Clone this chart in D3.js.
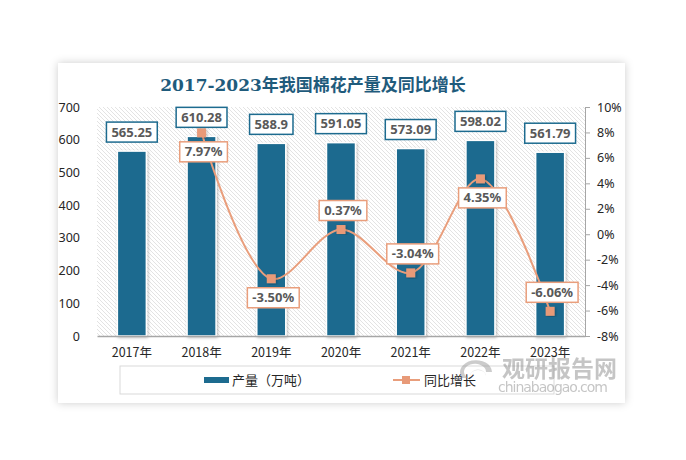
<!DOCTYPE html>
<html>
<head>
<meta charset="utf-8">
<script src="https://cdn.jsdelivr.net/npm/d3@7"></script>
<style>
body{margin:0;background:#fff;}
svg text{font-family:"Noto Sans CJK SC","Noto Sans",sans-serif;}
</style>
</head>
<body>
<div id="chart"></div>
<script>
// data
var years = ["2017年","2018年","2019年","2020年","2021年","2022年","2023年"]
var output = [565.25,610.28,588.9,591.05,573.09,598.02,561.79]
var growth = [null,7.97,-3.50,0.37,-3.04,4.35,-6.06]
var growthLabels = ["","7.97%","-3.50%","0.37%","-3.04%","4.35%","-6.06%"]
var growthSide = [0,1,1,-1,-1,1,-1]   // 1 = label under the point, -1 = over it
var leftTicks = [0,100,200,300,400,500,600,700]
var rightTicks = [-8,-6,-4,-2,0,2,4,6,8,10]

var barColor = "#1d6b8f"
var lineColor = "#e99e7c"
var W = 686, H = 460

drawChart()

function drawChart(){
    var svg = d3.select("#chart").append("svg").attr("width",W).attr("height",H)
    var defs = svg.append("defs")

    var sh = defs.append("filter").attr("id","panelShadow").attr("x","-10%").attr("y","-10%").attr("width","120%").attr("height","120%")
    sh.append("feDropShadow").attr("dx",0).attr("dy",0).attr("stdDeviation",4).attr("flood-color","#000").attr("flood-opacity",0.2)

    var bs = defs.append("filter").attr("id","barShadow").attr("x","-40%").attr("y","-10%").attr("width","180%").attr("height","120%")
    bs.append("feDropShadow").attr("dx",1).attr("dy",1).attr("stdDeviation",1.5).attr("flood-color","#000").attr("flood-opacity",0.28)

    var hatch = defs.append("pattern").attr("id","hatch").attr("patternUnits","userSpaceOnUse")
        .attr("width",4).attr("height",4)
    hatch.append("rect").attr("width",4).attr("height",4).attr("fill","#fff")
    hatch.append("path").attr("d","M-1,-1L5,5M-1,3L1,5M3,-1L5,1").attr("stroke","#dcdcdc").attr("stroke-width",0.8)

    // panel
    svg.append("rect").attr("x",58).attr("y",63).attr("width",567).attr("height",340)
        .attr("fill","#fff").attr("filter","url(#panelShadow)")

    svg.append("text").attr("x",313).attr("y",91).attr("text-anchor","middle")
        .attr("font-size",17).attr("font-weight","bold").attr("fill","#1f5b7c")
        .style("font-family","'DejaVu Serif','Noto Sans CJK SC',serif")
        .text("2017-2023年我国棉花产量及同比增长")

    var left = 97, right = 585, top = 107, bottom = 336

    var x = d3.scaleBand().domain(years).range([left,right]).padding(0)
    var yL = d3.scaleLinear().domain([0,700]).range([bottom,top])
    var yR = d3.scaleLinear().domain([-8,10]).range([bottom,top])
    var barW = 29

    svg.append("rect").attr("x",left).attr("y",top).attr("width",right-left).attr("height",bottom-top)
        .attr("fill","url(#hatch)")

    // bars
    svg.selectAll(".bar").data(output).enter().append("rect")
        .attr("class","bar")
        .attr("x",function(d,i){return x(years[i])+x.bandwidth()/2-barW/2})
        .attr("y",function(d){return yL(d)})
        .attr("width",barW)
        .attr("height",function(d){return bottom-yL(d)})
        .attr("fill",barColor).attr("stroke","#fff").attr("stroke-width",1.5)
        .attr("filter","url(#barShadow)")

    // axes
    var axL = svg.append("g").attr("transform","translate("+left+",0)")
        .call(d3.axisLeft(yL).tickValues(leftTicks).tickSize(0).tickPadding(17))
    axL.select(".domain").remove()
    axL.selectAll("text").attr("font-size",12.5).attr("fill","#262626").style("font-family","'Noto Sans','DejaVu Sans',sans-serif")

    var axR = svg.append("g").attr("transform","translate("+right+",0)")
        .call(d3.axisRight(yR).tickValues(rightTicks).tickSize(5).tickPadding(7).tickFormat(function(d){return d+"%"}))
    axR.selectAll("line,path").attr("stroke","#a6a6a6")
    axR.selectAll("text").attr("font-size",12.5).attr("fill","#262626").style("font-family","'Noto Sans','DejaVu Sans',sans-serif")

    var axB = svg.append("g").attr("transform","translate(0,"+bottom+")")
        .call(d3.axisBottom(x).tickSize(0).tickPadding(12))
    axB.select(".domain").attr("stroke","#a6a6a6").attr("stroke-width",1.5)
    axB.selectAll("text").attr("font-size",12.5).attr("fill","#262626")

    // growth line
    var pts = []
    growth.forEach(function(g,i){
        if(g!=null){ pts.push({x:x(years[i])+x.bandwidth()/2, y:yR(g), i:i}) }
    })
    var line = d3.line().x(function(d){return d.x}).y(function(d){return d.y}).curve(d3.curveCatmullRom.alpha(0.5))
    svg.append("path").attr("d",line(pts)).attr("fill","none").attr("stroke",lineColor).attr("stroke-width",2)
    svg.selectAll(".mk").data(pts).enter().append("rect")
        .attr("class","mk")
        .attr("x",function(d){return d.x-4.5}).attr("y",function(d){return d.y-4.5})
        .attr("width",9).attr("height",9).attr("fill","#e89a78")
        .attr("filter","url(#barShadow)")

    // bar labels
    output.forEach(function(v,i){
        labelBox(svg, x(years[i])+x.bandwidth()/2, yL(v)-19, String(v), barColor)
    })
    pts.forEach(function(p){
        labelBox(svg, p.x+2, p.y+growthSide[p.i]*19, growthLabels[p.i], lineColor)
    })

    // legend
    svg.append("rect").attr("x",120).attr("y",366).attr("width",434).attr("height",28)
        .attr("fill","#fff").attr("stroke","#d9d9d9")
    svg.append("rect").attr("x",204).attr("y",377).attr("width",25).attr("height",6).attr("fill",barColor)
    svg.append("text").attr("x",232).attr("y",385).attr("font-size",13).attr("fill","#262626").text("产量（万吨）")
    svg.append("line").attr("x1",393).attr("x2",420).attr("y1",380).attr("y2",380).attr("stroke",lineColor).attr("stroke-width",2)
    svg.append("rect").attr("x",402).attr("y",376).attr("width",8).attr("height",8).attr("fill","#e89a78")
    svg.append("text").attr("x",424).attr("y",385).attr("font-size",13).attr("fill","#262626").text("同比增长")

    // watermark
    var wm = svg.append("g").attr("opacity",0.5)
    wm.append("path").attr("d","M462,378 A16,12 0 1,1 492,372 L486,372 A11,8 0 1,0 468,378 Z").attr("fill","#9a9a9a")
    wm.append("path").attr("d","M470,376 A8,6 0 1,1 486,376 A5,4 0 1,0 470,376 Z").attr("fill","#b5b5b5")
    wm.append("text").attr("x",502).attr("y",377).attr("font-size",23).attr("font-weight","bold").attr("fill","#8c8c8c").text("观研报告网")
    wm.append("text").attr("x",498).attr("y",392).attr("font-size",14).attr("fill","#8c8c8c")
        .style("font-family","'DejaVu Sans',sans-serif").attr("textLength",110).text("chinabaogao.com")
}

function labelBox(svg,cx,cy,txt,border){
    var g = svg.append("g")
    var t = g.append("text").attr("x",cx).attr("y",cy+4.5).attr("text-anchor","middle")
        .attr("font-size",13).attr("font-weight","bold").attr("fill","#595959")
        .style("font-family","'Noto Sans','DejaVu Sans',sans-serif")
        .text(txt)
    var w = t.node().getComputedTextLength()+10
    g.insert("rect","text").attr("x",cx-w/2).attr("y",cy-10).attr("width",w).attr("height",20)
        .attr("fill","#fff").attr("stroke",border).attr("stroke-width",1.5)
}
</script>
</body>
</html>
